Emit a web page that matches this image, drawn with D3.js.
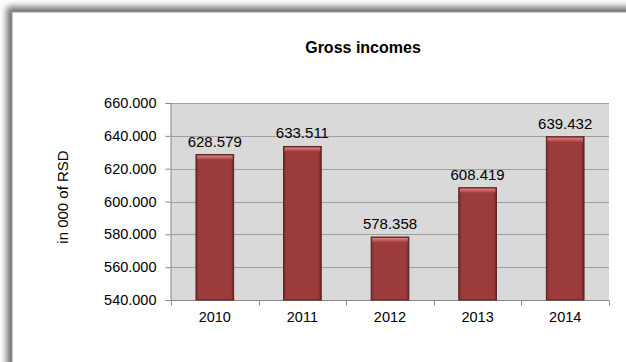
<!DOCTYPE html>
<html>
<head>
<meta charset="utf-8">
<script src="https://cdn.jsdelivr.net/npm/d3@7"></script>
<style>
  html, body { margin: 0; padding: 0; background: #fff; }
  svg { display: block; font-family: "Liberation Sans", Arial, sans-serif; }
</style>
</head>
<body>
<svg id="chart" width="626" height="362"></svg>
<script>
// Gross incomes by year, in thousands of RSD
const years = ["2010", "2011", "2012", "2013", "2014"];
const incomes = [628.579, 633.511, 578.358, 608.419, 639.432];
const yTicks = [540, 560, 580, 600, 620, 640, 660];

const W = 626, H = 362;
const svg = d3.select("#chart");
const defs = svg.append("defs");

// soft shadow behind the chart frame
const sh = defs.append("filter").attr("id", "frameShadow")
  .attr("x", "-10%").attr("y", "-10%").attr("width", "120%").attr("height", "120%");
sh.append("feGaussianBlur").attr("stdDeviation", 3.5);

// bevelled bar fill
const barGrad = defs.append("linearGradient").attr("id", "barBody")
  .attr("x1", 0).attr("x2", 1).attr("y1", 0).attr("y2", 0);
barGrad.append("stop").attr("offset", "0%").attr("stop-color", "#7a2a2a");
barGrad.append("stop").attr("offset", "8%").attr("stop-color", "#9c3b3b");
barGrad.append("stop").attr("offset", "92%").attr("stop-color", "#9c3b3b");
barGrad.append("stop").attr("offset", "100%").attr("stop-color", "#6e2424");

const topGrad = defs.append("linearGradient").attr("id", "barTop")
  .attr("x1", 0).attr("x2", 0).attr("y1", 0).attr("y2", 1);
topGrad.append("stop").attr("offset", "0%").attr("stop-color", "#e07e7e");
topGrad.append("stop").attr("offset", "100%").attr("stop-color", "#a84242");

// frame with shadow
svg.append("rect").attr("x", 7).attr("y", 7).attr("width", W + 20).attr("height", H + 20)
  .attr("fill", "#666").attr("filter", "url(#frameShadow)");
svg.append("rect").attr("x", 12).attr("y", 12).attr("width", W + 20).attr("height", H + 20)
  .attr("fill", "#fff").attr("stroke", "#9a9a9a").attr("stroke-width", 1);

// title
svg.append("text").attr("x", 363).attr("y", 53).attr("text-anchor", "middle")
  .attr("font-size", 16).attr("font-weight", "bold").attr("fill", "#000")
  .text("Gross incomes");

const plot = { left: 171, right: 609, top: 103, bottom: 300 };

const x = d3.scaleBand().domain(years).range([plot.left, plot.right])
  .paddingInner(0.57).paddingOuter(0.285);
const xBand = d3.scaleBand().domain(years).range([plot.left, plot.right]);
const y = d3.scaleLinear().domain([540, 660]).range([plot.bottom, plot.top]);
const fmt = d3.format(".3f");

// plot background
svg.append("rect").attr("x", plot.left).attr("y", plot.top)
  .attr("width", plot.right - plot.left).attr("height", plot.bottom - plot.top)
  .attr("fill", "#d9d9d9");

// horizontal gridlines
svg.append("g").selectAll("line").data(yTicks.slice(1)).join("line")
  .attr("x1", plot.left).attr("x2", plot.right)
  .attr("y1", d => Math.round(y(d)) + 0.5).attr("y2", d => Math.round(y(d)) + 0.5)
  .attr("stroke", "#9f9f9f").attr("stroke-width", 1);

// y axis
const yAxis = svg.append("g").attr("transform", `translate(${plot.left - 0.5},0)`)
  .call(d3.axisLeft(y).tickValues(yTicks).tickFormat(fmt).tickSize(5).tickPadding(9));
yAxis.select(".domain").attr("stroke", "#868686");
yAxis.selectAll(".tick line").attr("stroke", "#868686");
yAxis.selectAll(".tick text").attr("font-size", 14.5).attr("fill", "#000")
  .attr("font-family", "Liberation Sans, Arial, sans-serif");

// x axis with ticks at category boundaries
const xg = svg.append("g").attr("transform", `translate(0,${plot.bottom + 0.5})`);
xg.append("line").attr("x1", plot.left).attr("x2", plot.right)
  .attr("stroke", "#868686");
const bounds = years.map(d => xBand(d)).concat([plot.right]);
xg.selectAll("line.tk").data(bounds).join("line").attr("class", "tk")
  .attr("x1", d => Math.round(d) + 0.5).attr("x2", d => Math.round(d) + 0.5)
  .attr("y1", 0).attr("y2", 5).attr("stroke", "#868686");
xg.selectAll("text").data(years).join("text")
  .attr("x", d => xBand(d) + xBand.bandwidth() / 2).attr("y", 21)
  .attr("text-anchor", "middle").attr("font-size", 14.5).attr("fill", "#000")
  .text(d => d);

// bars
const bars = svg.append("g").selectAll("g").data(years.map((d, i) => ({ year: d, v: incomes[i] })))
  .join("g");
bars.append("rect")
  .attr("x", d => x(d.year)).attr("y", d => y(d.v))
  .attr("width", x.bandwidth()).attr("height", d => plot.bottom - y(d.v))
  .attr("fill", "url(#barBody)").attr("stroke", "#5a1f1f").attr("stroke-width", 1);
bars.append("rect")
  .attr("x", d => x(d.year) + 1).attr("y", d => y(d.v) + 1)
  .attr("width", x.bandwidth() - 2).attr("height", 4)
  .attr("fill", "url(#barTop)");

// value labels
bars.append("text")
  .attr("x", d => x(d.year) + x.bandwidth() / 2).attr("y", d => y(d.v) - 8)
  .attr("text-anchor", "middle").attr("font-size", 15).attr("fill", "#000")
  .text(d => fmt(d.v));

// y axis title
svg.append("text").attr("transform", "translate(68,197) rotate(-90)")
  .attr("text-anchor", "middle").attr("font-size", 15).attr("fill", "#000")
  .text("in 000 of RSD");
</script>
</body>
</html>
